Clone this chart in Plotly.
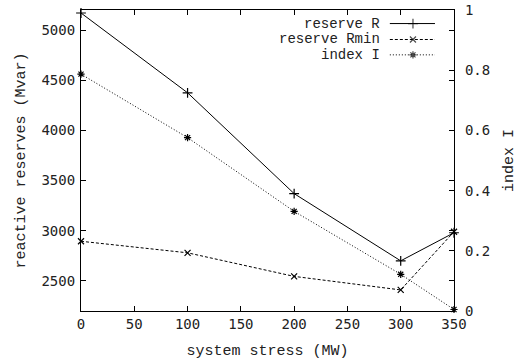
import plotly.graph_objects as go

stress = [0, 100, 200, 300, 350]
reserve_R = [5170, 4375, 3370, 2700, 2980]
reserve_Rmin = [2895, 2780, 2545, 2410, 2990]
index_I = [0.787, 0.576, 0.331, 0.122, 0.005]

names = ["reserve R", "reserve Rmin", "index I"]
dashes = ["solid", "3px,2px", "1px,2px"]
symbols = ["cross-thin", "x-thin", "asterisk"]
msizes = [7, 6, 6]

tick_font = dict(family="DejaVu Sans Mono", size=14, color="#222")
title_font = dict(family="Liberation Mono", size=15, color="#222")
key_font = dict(family="Liberation Mono", size=14, color="#222")

fig = go.Figure()

series = [(reserve_R, "y"), (reserve_Rmin, "y"), (index_I, "y2")]
for (vals, ax), dash, sym, ms in zip(series, dashes, symbols, msizes):
    fig.add_trace(go.Scatter(
        x=stress, y=vals, yaxis=ax, mode="lines+markers",
        line=dict(color="black", width=1, dash=dash),
        marker=dict(symbol=sym, size=ms, color="black",
                    line=dict(color="black", width=1.2)),
        showlegend=False, cliponaxis=False,
    ))

# gnuplot-style key: text right-aligned, sample line to its right
key_y = [0.955, 0.902, 0.851]
for name, ky, dash, sym, ms in zip(names, key_y, dashes, symbols, msizes):
    fig.add_trace(go.Scatter(
        x=[0.828, 0.890, 0.949], y=[ky, ky, ky], xaxis="x3", yaxis="y3",
        mode="lines+markers",
        line=dict(color="black", width=1, dash=dash),
        marker=dict(symbol=sym, size=[0, ms, 0], color="black",
                    line=dict(color="black", width=1.2)),
        showlegend=False, hoverinfo="skip",
    ))
    fig.add_annotation(x=0.806, y=ky, xref="paper", yref="paper",
                       text=name, showarrow=False, xanchor="right",
                       yanchor="middle", font=key_font)

axis_common = dict(showline=True, linecolor="black", linewidth=1.2,
                   ticks="inside", ticklen=5, tickcolor="black",
                   tickfont=tick_font, showgrid=False, zeroline=False,
                   automargin=False)

fig.update_layout(
    width=518, height=363,
    margin=dict(l=81, r=64, t=10, b=52, autoexpand=False),
    plot_bgcolor="white", paper_bgcolor="white",
    xaxis=dict(range=[0, 350], dtick=50, tick0=0, mirror="ticks",
               title=dict(text="system stress (MW)", standoff=13,
                          font=title_font),
               **axis_common),
    yaxis=dict(range=[2200, 5200], dtick=500, tick0=2500, mirror="ticks",
               ticklabelstandoff=2,
               title=dict(text="reactive reserves (Mvar)", standoff=12,
                          font=title_font),
               **axis_common),
    yaxis2=dict(range=[0, 1], dtick=0.2, tick0=0, overlaying="y",
                side="right", tickformat=".1~f", ticklabelstandoff=7,
                title=dict(text="index I", standoff=18, font=title_font),
                **axis_common),
    xaxis3=dict(range=[0, 1], overlaying="x", visible=False),
    yaxis3=dict(range=[0, 1], overlaying="y", visible=False),
)

fig.write_html("out.html")
